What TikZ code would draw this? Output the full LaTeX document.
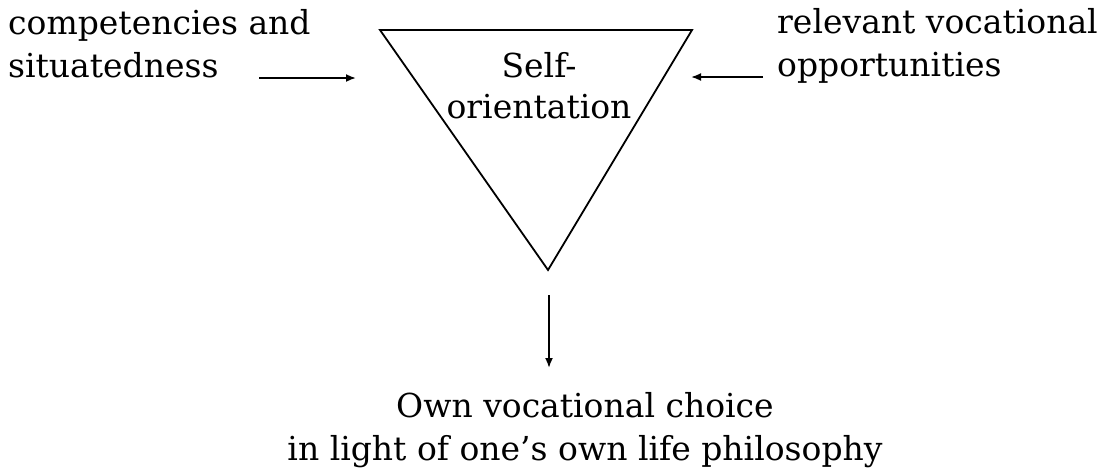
\documentclass[tikz,border=0pt]{standalone}
\usepackage{fontspec}
\setmainfont{DejaVu Serif}
\usetikzlibrary{arrows.meta}
\begin{document}
\begin{tikzpicture}[x=1pt,y=-1pt,
  lbl/.style={inner sep=0pt, font=\fontsize{33}{43}\selectfont},
  arr/.style={line width=1.8pt, -{Latex[length=10pt,width=8pt]}},
  tri/.style={line width=1.8pt, line join=miter}]
\useasboundingbox (0,0) rectangle (1102,469);
\coordinate (tl) at (380,30);
\coordinate (tr) at (692,30);
\coordinate (ap) at (548,270);
\draw[tri] (tl) -- (tr) -- (ap) -- cycle;
\node[lbl, align=center, anchor=base, font=\fontsize{33}{41}\selectfont] (self) at (539,118) {Self-\\orientation};
\node[lbl, align=left, anchor=base west] (comp) at (8,77) {competencies and\\situatedness};
\node[lbl, align=left, anchor=base west] (rel) at (777,76) {relevant vocational\\opportunities};
\node[lbl, align=center, anchor=base] (own) at (585,460) {Own vocational choice\\in light of one’s own life philosophy};
\coordinate (a1s) at (259,78);
\coordinate (a1e) at (356,78);
\coordinate (a2s) at (763,77);
\coordinate (a2e) at (691,77);
\coordinate (a3s) at (549,295);
\coordinate (a3e) at (549,368);
\draw[arr] (a1s) -- (a1e);
\draw[arr] (a2s) -- (a2e);
\draw[arr] (a3s) -- (a3e);
\end{tikzpicture}
\end{document}
